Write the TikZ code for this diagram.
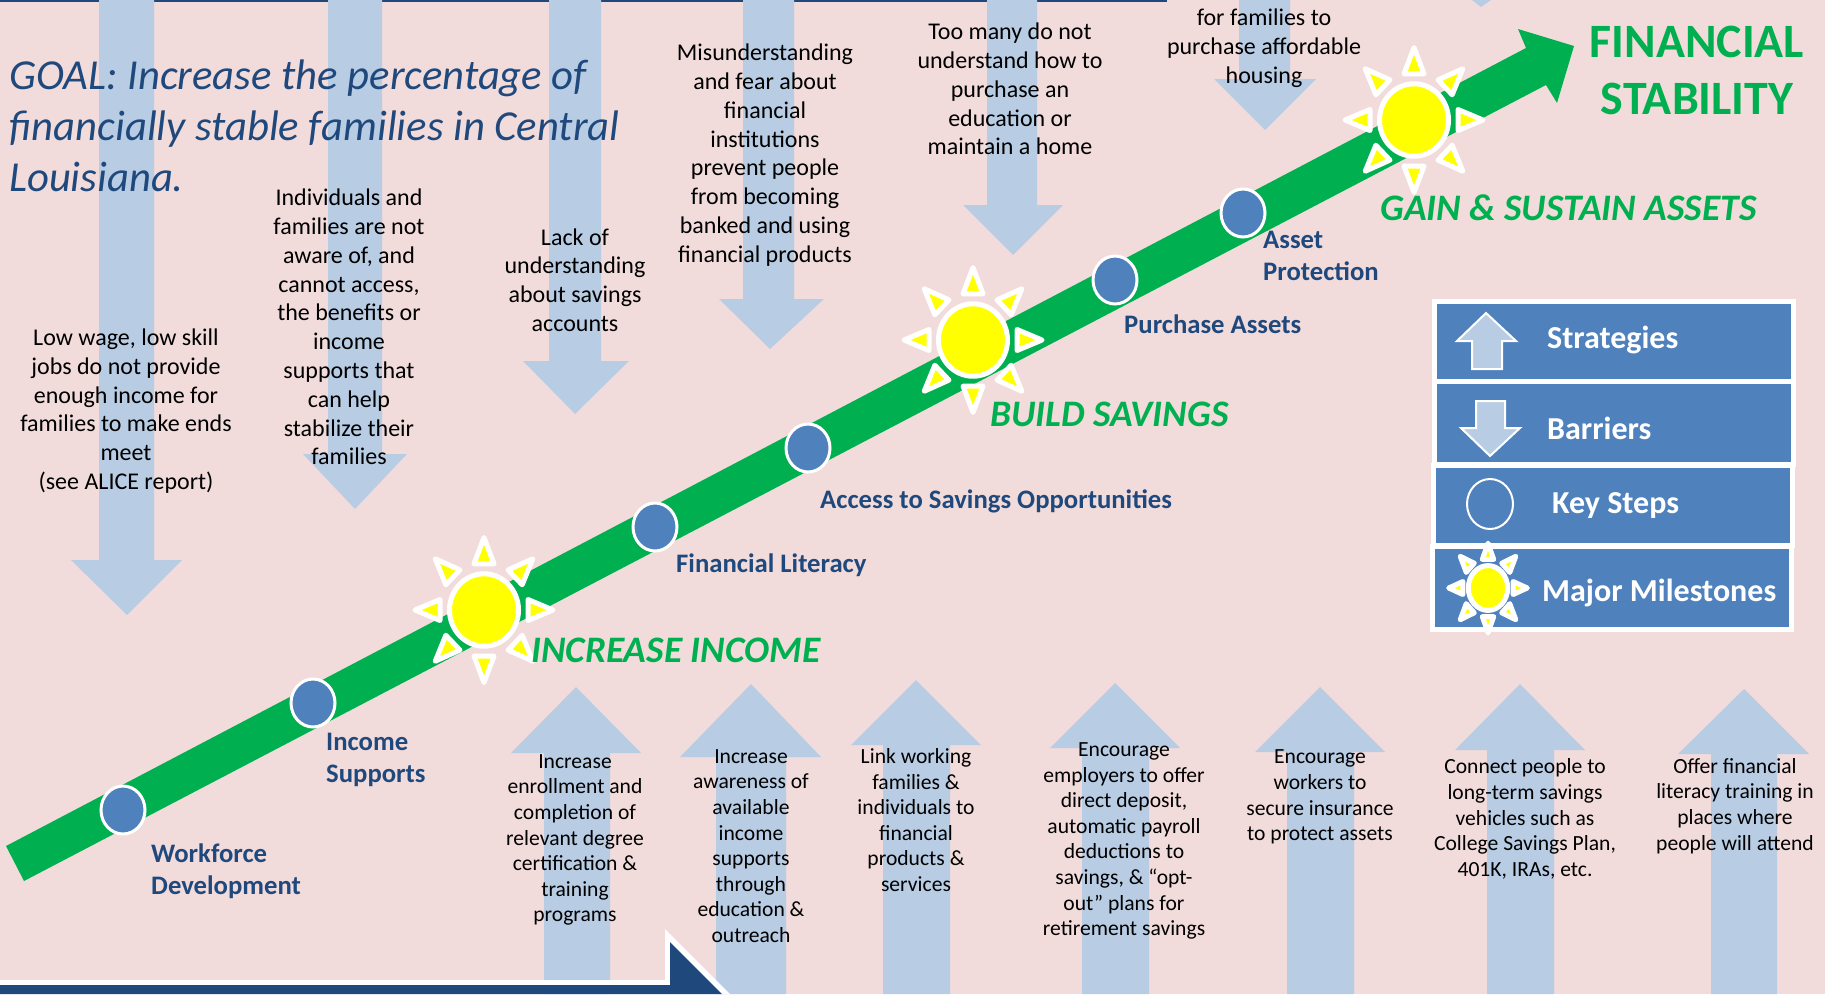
\documentclass[tikz,border=0pt]{standalone}
\usepackage{fontspec}
\setmainfont{Carlito}
\usetikzlibrary{shapes, positioning}
\definecolor{pinkback}{HTML}{F2DCDB}
\definecolor{arrowblue}{HTML}{B8CCE4}
\definecolor{stepblue}{HTML}{4F81BD}
\definecolor{navy}{HTML}{1F497D}
\definecolor{bandgreen}{HTML}{00B050}
\definecolor{sunyellow}{RGB}{255,255,0}
\tikzset {
    barrier/.style = {
        fill = arrowblue
    },
    cause/.style = {
        inner sep=0pt,
        align = center,
        font = \fontsize{24}{28.8}\selectfont
    },
    action/.style = {
        inner sep=0pt,
        align = center,
        font = \fontsize{21.6}{25.6}\selectfont
    },
    keystep/.style = {
        draw = white,
        fill = stepblue,
        shape = ellipse,
        line width=3pt,
        minimum width=44pt,
        minimum height=48pt,
        inner sep=0pt
    },
    steplabel/.style = {
        anchor = west,
        inner sep=0pt,
        align = left,
        text = navy,
        font = \fontsize{26.7}{32}\selectfont\bfseries
    },
    milestone/.style = {
        anchor = west,
        inner sep=0pt,
        text = bandgreen,
        font = \fontsize{37.4}{44}\selectfont\bfseries\itshape
    },
    legendbox/.style = {
        draw = white,
        fill = stepblue,
        line width=5pt,
        minimum width=359pt,
        inner sep=0pt
    },
    legendtext/.style = {
        anchor = west,
        inner sep=0pt,
        text = white,
        font = \fontsize{32}{38}\selectfont\bfseries
    },
    sunburst/.pic = {
        \foreach \a in {0,45,...,315} {
            \path [rotate=\a, draw=white, fill=sunyellow, line width=5pt, line join=round]
                (44,-10) -- (69,0) -- (44,10) -- cycle;
        }
        \path [draw=white, fill=sunyellow, line width=5pt] (0,0) circle (34.5);
    }
}
\begin{document}
\begin{tikzpicture}[x=1pt, y=-1pt]
        \useasboundingbox (0,0) rectangle (1825,994);
        \fill [pinkback] (0,0) rectangle (1825,994);
        \fill [navy] (0,0) rectangle (1167,2);

        % Barrier arrows, pointing down
        \path [barrier] (99,0) -- (99,560) -- (71,560) -- (127,615) -- (182,560) -- (154,560) -- (154,0) -- cycle;
        \path [barrier] (328,0) -- (328,454) -- (303,454) -- (355,509) -- (407,454) -- (382,454) -- (382,0) -- cycle;
        \path [barrier] (549,0) -- (549,361) -- (523,361) -- (575,414) -- (629,361) -- (601,361) -- (601,0) -- cycle;
        \path [barrier] (743,0) -- (743,299) -- (719,299) -- (770,349) -- (824,299) -- (794,299) -- (794,0) -- cycle;
        \path [barrier] (987,0) -- (987,205) -- (963,205) -- (1013,255) -- (1063,205) -- (1037,205) -- (1037,0) -- cycle;
        \path [barrier] (1239,0) -- (1239,79) -- (1214,79) -- (1265,130) -- (1316,79) -- (1290,79) -- (1290,0) -- cycle;
        \path [barrier] (1472,0) -- (1481,7) -- (1491,0) -- cycle;

        % Strategy arrows, pointing up
        \path [barrier] (544,994) -- (544,753) -- (511,753) -- (576,687) -- (641,753) -- (610,753) -- (610,994) -- cycle;
        \path [barrier] (716,994) -- (716,757) -- (680,757) -- (751,684) -- (821,757) -- (786,757) -- (786,994) -- cycle;
        \path [barrier] (883,994) -- (883,745) -- (851,745) -- (916,680) -- (981,745) -- (950,745) -- (950,994) -- cycle;
        \path [barrier] (1082,994) -- (1082,748) -- (1050,748) -- (1115,683) -- (1180,748) -- (1149,748) -- (1149,994) -- cycle;
        \path [barrier] (1287,994) -- (1287,752) -- (1255,752) -- (1320,687) -- (1385,752) -- (1354,752) -- (1354,994) -- cycle;
        \path [barrier] (1487,994) -- (1487,750) -- (1455,750) -- (1520,684) -- (1585,750) -- (1554,750) -- (1554,994) -- cycle;
        \path [barrier] (1711,994) -- (1711,754) -- (1678,754) -- (1744,689) -- (1809,754) -- (1777,754) -- (1777,994) -- cycle;

        % Corner arrow at the bottom
        \fill [white] (0,980) -- (665,980) -- (665,929) -- (730,994) -- (0,994) -- cycle;
        \fill [navy] (0,985) -- (670,985) -- (670,942) -- (722,994) -- (0,994) -- cycle;

        % Green band with its arrow head
        \fill [bandgreen] (6,846) -- (1526,48) -- (1518,29) -- (1574,46) -- (1557,103) -- (1546,85) -- (24,881) -- cycle;

        % Key steps along the band
        \node [keystep] at (123,810)   (step1) {};
        \node [keystep] at (313,703)   (step2) {};
        \node [keystep] at (655,527)   (step3) {};
        \node [keystep] at (808,448)   (step4) {};
        \node [keystep] at (1115,280)  (step5) {};
        \node [keystep] at (1243,213)  (step6) {};

        % Major milestones
        \pic [yscale=1.05] (sun1) at (484,610) {sunburst};
        \pic [yscale=1.05] (sun2) at (973,340) {sunburst};
        \pic [yscale=1.05] (sun3) at (1414,120) {sunburst};

        % Goal and result
        \node [anchor=west, inner sep=0pt, align=left, text=navy,
               font=\fontsize{42.7}{51}\selectfont\itshape] at (9,126) (goal)
            {GOAL: Increase the percentage of\\financially stable families in Central\\Louisiana.};
        \node [inner sep=0pt, align=center, text=bandgreen,
               font=\fontsize{47.9}{57}\selectfont\bfseries] at (1697,70) (result)
            {FINANCIAL\\STABILITY};

        % Barrier texts
        \node [cause] at (126,411)  (cause1) {Low wage, low skill\\jobs do not provide\\enough income for\\families to make ends\\meet\\(see ALICE report)};
        \node [cause] at (349,327)  (cause2) {Individuals and\\families are not\\aware of, and\\cannot access,\\the benefits or\\income\\supports that\\can help\\stabilize their\\families};
        \node [cause] at (575,280)  (cause3) {Lack of\\understanding\\about savings\\accounts};
        \node [cause] at (765,155)  (cause4) {Misunderstanding\\and fear about\\financial\\institutions\\prevent people\\from becoming\\banked and using\\financial products};
        \node [cause] at (1010,89)  (cause5) {Too many do not\\understand how to\\purchase an\\education or\\maintain a home};
        \node [cause] at (1264,48)  (cause6) {for families to\\purchase affordable\\housing};

        % Strategy texts
        \node [action] at (575,840)   (action1) {Increase\\enrollment and\\completion of\\relevant degree\\certification \&\\training\\programs};
        \node [action] at (751,846)   (action2) {Increase\\awareness of\\available\\income\\supports\\through\\education \&\\outreach};
        \node [action] at (916,820)   (action3) {Link working\\families \&\\individuals to\\financial\\products \&\\services};
        \node [action] at (1124,841)  (action4) {Encourage\\employers to offer\\direct deposit,\\automatic payroll\\deductions to\\savings, \& “opt-\\out” plans for\\retirement savings};
        \node [action] at (1320,797)  (action5) {Encourage\\workers to\\secure insurance\\to protect assets};
        \node [action] at (1525,819)  (action6) {Connect people to\\long-term savings\\vehicles such as\\College Savings Plan,\\401K, IRAs, etc.};
        \node [action] at (1735,806)  (action7) {Offer financial\\literacy training in\\places where\\people will attend};

        % Labels of the steps and milestones
        \node [steplabel] at (151,871)   (label1) {Workforce\\Development};
        \node [steplabel] at (326,760)   (label2) {Income\\Supports};
        \node [steplabel] at (676,565)   (label3) {Financial Literacy};
        \node [steplabel] at (820,501)   (label4) {Access to Savings Opportunities};
        \node [steplabel] at (1124,324)  (label5) {Purchase Assets};
        \node [steplabel] at (1263,256)  (label6) {Asset\\Protection};
        \node [milestone] at (531,650)   (mile1) {INCREASE INCOME};
        \node [milestone] at (990,414)   (mile2) {BUILD SAVINGS};
        \node [milestone] at (1380,208)  (mile3) {GAIN \& SUSTAIN ASSETS};

        % Legend
        \node [legendbox, minimum height=80pt] at (1614,341.5) (box1) {};
        \node [legendbox, minimum height=83pt] at (1614,423)   (box2) {};
        \node [legendbox, minimum height=80pt] at (1613,505.5) (box3) {};
        \node [legendbox, minimum height=83pt] at (1612,588)   (box4) {};
        \path [draw=white, fill=arrowblue, line width=2pt] (1472,369) -- (1472,341) -- (1457,341) -- (1486,313) -- (1516,341) -- (1502,341) -- (1502,369) -- cycle;
        \path [draw=white, fill=arrowblue, line width=2pt] (1476,401) -- (1476,428) -- (1461,428) -- (1490,456) -- (1520,428) -- (1505,428) -- (1505,401) -- cycle;
        \path [draw=white, line width=2pt] (1490,504) ellipse (23 and 25);
        \pic [xscale=.57, yscale=.65] (sun4) at (1488,588) {sunburst};
        \node [legendtext] at (1547,340)  (text1) {Strategies};
        \node [legendtext] at (1547,428)  (text2) {Barriers};
        \node [legendtext] at (1552,506)  (text3) {Key Steps};
        \node [legendtext] at (1542,593)  (text4) {Major Milestones};
\end{tikzpicture}
\end{document}
